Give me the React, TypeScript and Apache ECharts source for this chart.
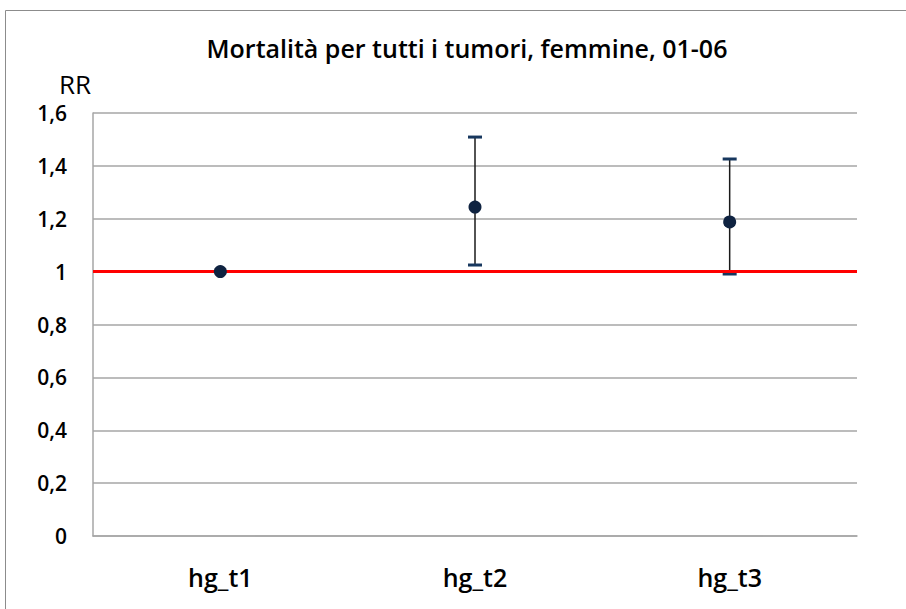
import React, { useEffect, useRef } from "react";
import * as echarts from "echarts";

const categories = ["hg_t1", "hg_t2", "hg_t3"];
const rrValues = [1.0, 1.244, 1.188];
const lowerCI = [1.0, 1.025, 0.991];
const upperCI = [1.0, 1.509, 1.426];
const yTicks = [0, 0.2, 0.4, 0.6, 0.8, 1, 1.2, 1.4, 1.6];
const referenceValue = 1;
const titleText = "Mortalità per tutti i tumori, femmine, 01-06";
const yName = "RR";

export default function App() {
  const ref = useRef<HTMLDivElement>(null);
  useEffect(() => {
    if (!ref.current) return;
    const chart = echarts.init(ref.current, null, { renderer: "svg" });
    const font = "'Open Sans', 'Noto Sans', sans-serif";
    const errData = categories.map((c, i) => [i, lowerCI[i], upperCI[i]]);
    chart.setOption({
      animation: false,
      backgroundColor: "#ffffff",
      title: {
        text: titleText,
        left: 462,
        textAlign: "center",
        top: 27,
        textStyle: { fontFamily: font, fontSize: 25, fontWeight: 600, color: "#000", lineHeight: 32 },
      },
      graphic: [
        {
          type: "rect",
          shape: { x: 5.5, y: 10.5, width: 920, height: 620 },
          style: { fill: "none", stroke: "#8c8c8c", lineWidth: 1 },
          silent: true,
          z: -1,
        },
        {
          type: "text",
          x: 59,
          y: 84,
          style: {
            text: yName,
            fontFamily: font,
            fontSize: 26,
            fill: "#000",
            verticalAlign: "middle",
            textAlign: "left",
          },
        },
      ],
      grid: { left: 93, right: 49, top: 113, bottom: 73, containLabel: false },
      xAxis: {
        type: "category",
        data: categories,
        boundaryGap: true,
        axisLine: { show: true, lineStyle: { color: "#a6a6a6", width: 1.5 } },
        axisTick: { show: false },
        axisLabel: { fontFamily: font, fontSize: 25, fontWeight: 600, color: "#000", margin: 28 },
        splitLine: { show: false },
      },
      yAxis: {
        type: "value",
        min: yTicks[0],
        max: yTicks[yTicks.length - 1],
        interval: 0.2,
        axisLine: { show: true, lineStyle: { color: "#a6a6a6", width: 1.5 } },
        axisTick: { show: false },
        axisLabel: {
          fontFamily: font,
          fontSize: 21,
          fontWeight: 600,
          color: "#000",
          margin: 26,
          formatter: (v: number) => String(Math.round(v * 10) / 10).replace(".", ","),
        },
        splitLine: { show: true, lineStyle: { color: "#a6a6a6", width: 1.5 } },
      },
      series: [
        {
          type: "custom",
          name: "CI",
          data: errData,
          z: 3,
          renderItem: (params: any, api: any) => {
            const x = api.value(0);
            const lo = api.coord([x, api.value(1)]);
            const hi = api.coord([x, api.value(2)]);
            const half = 7;
            if (api.value(1) === api.value(2)) return { type: "group", children: [] };
            return {
              type: "group",
              children: [
                {
                  type: "line",
                  shape: { x1: hi[0], y1: hi[1], x2: lo[0], y2: lo[1] },
                  style: { stroke: "#1a1a1a", lineWidth: 1.5 },
                },
                {
                  type: "line",
                  shape: { x1: hi[0] - half, y1: hi[1], x2: hi[0] + half, y2: hi[1] },
                  style: { stroke: "#17375e", lineWidth: 3 },
                },
                {
                  type: "line",
                  shape: { x1: lo[0] - half, y1: lo[1], x2: lo[0] + half, y2: lo[1] },
                  style: { stroke: "#17375e", lineWidth: 3 },
                },
              ],
            };
          },
        },
        {
          type: "scatter",
          name: "RR",
          data: rrValues,
          symbol: "circle",
          symbolSize: 13,
          itemStyle: { color: "#0f2341", opacity: 1 },
          z: 5,
          markLine: {
            silent: true,
            symbol: "none",
            label: { show: false },
            lineStyle: { color: "#ff0000", width: 3, type: "solid", opacity: 1 },
            data: [{ yAxis: referenceValue }],
            z: 4,
          },
        },
      ],
    });
    return () => chart.dispose();
  }, []);
  return (
    <div
      ref={ref}
      style={{ position: "fixed", left: 0, top: 0, width: 906, height: 609 }}
    />
  );
}
